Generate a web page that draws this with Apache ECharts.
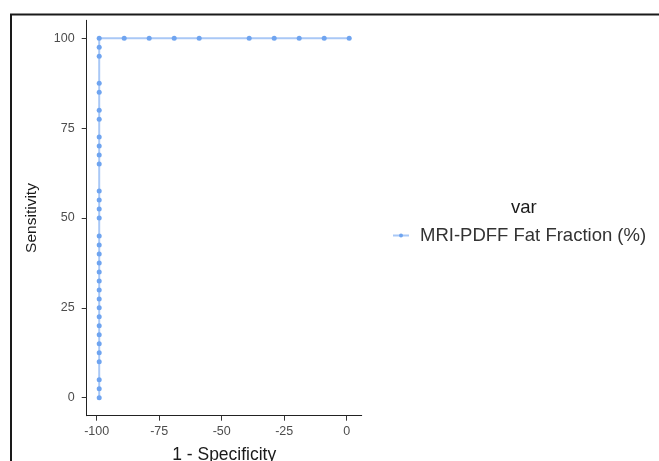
<!DOCTYPE html>
<html>
<head>
<meta charset="utf-8">
<script src="https://cdn.jsdelivr.net/npm/echarts@6/dist/echarts.min.js"></script>
<style>
html,body{margin:0;padding:0;background:#fff;}
#chart{width:659px;height:461px;}
</style>
</head>
<body>
<div id="chart"></div>
<script>
// 1 - Specificity values (x) and Sensitivity values (y), one entry per point
const oneMinusSpecificity = [
  -99,-99,-99,-99,-99,-99,-99,-99,-99,-99,-99,
  -99,-99,-99,-99,-99,-99,-99,-99,-99,-99,-99,
  -99,-99,-99,-99,-99,-99,-99,-99,-99,-99,-99,
  -89,-79,-69,-59,-39,-29,-19,-9,1
];
const sensitivity = [
  0,2.5,5,10,12.5,15,17.5,20,22.5,25,27.5,
  30,32.5,35,37.5,40,42.5,45,50,52.5,55,57.5,
  65,67.5,70,72.5,77.5,80,85,87.5,95,97.5,100,
  100,100,100,100,100,100,100,100,100
];
const xTicks = [-100,-75,-50,-25,0];
const yTicks = [0,25,50,75,100];
const seriesName = 'MRI-PDFF Fat Fraction (%)';
const legendTitle = 'var';
const xTitle = '1 - Specificity';
const yTitle = 'Sensitivity';

const FONT = '"Liberation Sans", Arial, Helvetica, sans-serif';
const points = oneMinusSpecificity.map((x, i) => [x, sensitivity[i]]);

const chart = echarts.init(document.getElementById('chart'), null, {renderer: 'canvas'});
chart.setOption({
  animation: false,
  backgroundColor: '#ffffff',
  textStyle: {fontFamily: FONT},
  grid: {left: 86.7, top: 20.3, width: 275, height: 395.4, containLabel: false, outerBoundsMode: 'none'},
  xAxis: {
    type: 'value', min: -104, max: 6,
    splitLine: {show: false},
    axisLine: {show: true, onZero: false, lineStyle: {color: '#222', width: 1}},
    axisTick: {show: true, length: 5, customValues: xTicks, lineStyle: {color: '#333', width: 1}},
    axisLabel: {customValues: xTicks, color: '#4d4d4d', fontSize: 12.5, margin: 9, fontFamily: FONT},
    name: xTitle, nameLocation: 'middle', nameGap: 30,
    nameTextStyle: {color: '#1a1a1a', fontSize: 17.5, fontFamily: FONT}
  },
  yAxis: {
    type: 'value', min: -5, max: 105,
    splitLine: {show: false},
    axisLine: {show: true, onZero: false, lineStyle: {color: '#222', width: 1}},
    axisTick: {show: true, length: 5, customValues: yTicks, lineStyle: {color: '#333', width: 1}},
    axisLabel: {customValues: yTicks, color: '#4d4d4d', fontSize: 12.5, margin: 12, fontFamily: FONT},
    name: yTitle, nameLocation: 'middle', nameGap: 47, nameRotate: 90,
    nameTextStyle: {color: '#1a1a1a', fontSize: 15.5, fontFamily: FONT}
  },
  legend: {
    left: 387, top: 221,
    itemWidth: 16, itemHeight: 5, itemGap: 0,
    textStyle: {color: '#333', fontSize: 18.5, fontFamily: FONT, padding: [0, 0, 0, 6]},
    data: [seriesName]
  },
  graphic: [
    {type: 'text', left: 511, top: 198,
     style: {text: legendTitle, fill: '#1a1a1a', fontSize: 18.5, fontFamily: FONT}},
    {type: 'line', shape: {x1: 10, y1: 14.5, x2: 659, y2: 14.5},
     style: {stroke: '#1a1a1a', lineWidth: 2}},
    {type: 'line', shape: {x1: 11, y1: 14, x2: 11, y2: 461},
     style: {stroke: '#1a1a1a', lineWidth: 2}}
  ],
  series: [{
    name: seriesName,
    type: 'line',
    data: points,
    symbol: 'circle',
    symbolSize: 5,
    showSymbol: true,
    color: '#6fa4f0',
    itemStyle: {color: '#6fa4f0'},
    lineStyle: {color: 'rgba(111,164,240,0.6)', width: 2},
    emphasis: {disabled: true}
  }]
});
</script>
</body>
</html>
